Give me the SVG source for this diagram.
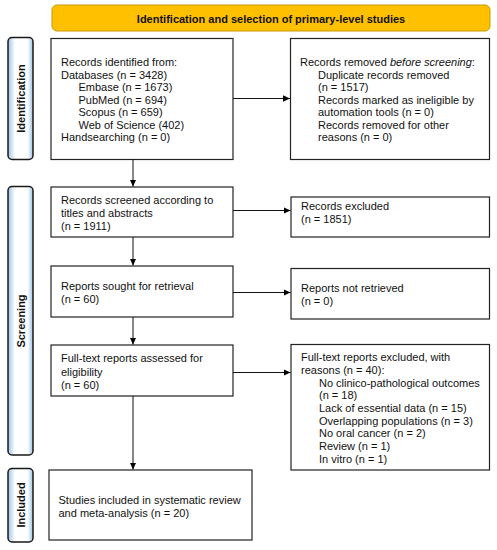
<svg xmlns="http://www.w3.org/2000/svg" width="497" height="550" viewBox="0 0 497 550">
<defs>
<linearGradient id="bar" x1="0" y1="0" x2="1" y2="0">
<stop offset="0" stop-color="#9dc3e6"/>
<stop offset="0.28" stop-color="#ffffff"/>
<stop offset="0.78" stop-color="#ffffff"/>
<stop offset="1" stop-color="#9dc3e6"/>
</linearGradient>
<marker id="ah" markerWidth="8" markerHeight="8" refX="7" refY="4" orient="auto" markerUnits="userSpaceOnUse">
<path d="M0,0.8 L7,4 L0,7.2 Z" fill="#000"/>
</marker>
<style>
text{font-family:"Liberation Sans",Arial,sans-serif;font-size:11px;fill:#111}
.box{fill:#fff;stroke:#222;stroke-width:1.2}
.side{fill:url(#bar);stroke:#1a1a1a;stroke-width:1.5}
.lab{font-weight:bold;font-size:11px}
.con{stroke:#111;stroke-width:1;fill:none;marker-end:url(#ah)}
</style>
</defs>
<rect width="497" height="550" fill="#fff"/>
<g id="header">
<rect x="52" y="5" width="438" height="26" rx="5" fill="#ffc000" stroke="#c99a00" stroke-width="1"/>
<text x="271" y="22.5" text-anchor="middle" style="font-weight:bold">Identification and selection of primary-level studies</text>
</g>
<g id="side-identification">
<rect class="side" x="8" y="37.5" width="25" height="122" rx="4"/>
<text class="lab" transform="translate(24.5,98.5) rotate(-90)" text-anchor="middle">Identification</text>
</g>
<g id="side-screening">
<rect class="side" x="8" y="186.5" width="25" height="268.5" rx="4"/>
<text class="lab" transform="translate(24.5,321) rotate(-90)" text-anchor="middle">Screening</text>
</g>
<g id="side-included">
<rect class="side" x="8" y="468.5" width="25" height="73.5" rx="4"/>
<text class="lab" transform="translate(24.5,505) rotate(-90)" text-anchor="middle">Included</text>
</g>
<g id="records-identified">
<rect class="box" x="51" y="38.5" width="182" height="121"/>
<text x="61" y="66">Records identified from:</text>
<text x="61" y="78.5">Databases (n = 3428)</text>
<text x="78.5" y="91">Embase (n = 1673)</text>
<text x="78.5" y="103.5">PubMed (n = 694)</text>
<text x="78.5" y="116">Scopus (n = 659)</text>
<text x="78.5" y="128.5">Web of Science (402)</text>
<text x="61" y="141">Handsearching (n = 0)</text>
</g>
<g id="records-removed">
<rect class="box" x="290.5" y="38.5" width="199" height="121"/>
<text x="300" y="66">Records removed <tspan font-style="italic">before screening</tspan>:</text>
<text x="318" y="78.5">Duplicate records removed</text>
<text x="318" y="91">(n = 1517)</text>
<text x="318" y="103.5">Records marked as ineligible by</text>
<text x="318" y="116">automation tools (n = 0)</text>
<text x="318" y="128.5">Records removed for other</text>
<text x="318" y="141">reasons (n = 0)</text>
</g>
<g id="records-screened">
<rect class="box" x="51" y="187" width="182" height="50"/>
<text x="61" y="204">Records screened according to</text>
<text x="61" y="217">titles and abstracts</text>
<text x="61" y="230">(n = 1911)</text>
</g>
<g id="records-excluded">
<rect class="box" x="291" y="197" width="198.5" height="40"/>
<text x="301" y="210">Records excluded</text>
<text x="301" y="222.5">(n = 1851)</text>
</g>
<g id="reports-sought">
<rect class="box" x="51" y="266" width="182" height="51"/>
<text x="61" y="290">Reports sought for retrieval</text>
<text x="61" y="303">(n = 60)</text>
</g>
<g id="reports-not-retrieved">
<rect class="box" x="291" y="268.5" width="198.5" height="50.5"/>
<text x="301" y="292">Reports not retrieved</text>
<text x="301" y="305">(n = 0)</text>
</g>
<g id="fulltext-assessed">
<rect class="box" x="51" y="345" width="182" height="51"/>
<text x="61" y="362">Full-text reports assessed for</text>
<text x="61" y="375.5">eligibility</text>
<text x="61" y="389">(n = 60)</text>
</g>
<g id="fulltext-excluded">
<rect class="box" x="291" y="344.5" width="198.5" height="125.5"/>
<text x="301" y="361">Full-text reports excluded, with</text>
<text x="301" y="374">reasons (n = 40):</text>
<text x="319" y="387">No clinico-pathological outcomes</text>
<text x="319" y="399">(n = 18)</text>
<text x="319" y="412">Lack of essential data (n = 15)</text>
<text x="319" y="424.5">Overlapping populations  (n = 3)</text>
<text x="319" y="437">No oral cancer (n = 2)</text>
<text x="319" y="449.5">Review (n = 1)</text>
<text x="319" y="462.5">In vitro (n = 1)</text>
</g>
<g id="studies-included">
<rect class="box" x="49" y="470" width="203" height="70"/>
<text x="58.5" y="504">Studies included in systematic review</text>
<text x="58.5" y="516.5">and meta-analysis (n = 20)</text>
</g>
<g id="connectors">
<line class="con" x1="233" y1="98.5" x2="290" y2="98.5"/>
<line class="con" x1="233" y1="210.5" x2="290.5" y2="210.5"/>
<line class="con" x1="233" y1="292.5" x2="290.5" y2="292.5"/>
<line class="con" x1="233" y1="372.5" x2="290.5" y2="372.5"/>
<line class="con" x1="133" y1="159.5" x2="133" y2="186.5"/>
<line class="con" x1="133" y1="237" x2="133" y2="265.5"/>
<line class="con" x1="133" y1="317" x2="133" y2="344.5"/>
<line class="con" x1="133" y1="396" x2="133" y2="469.5"/>
</g>
</svg>
